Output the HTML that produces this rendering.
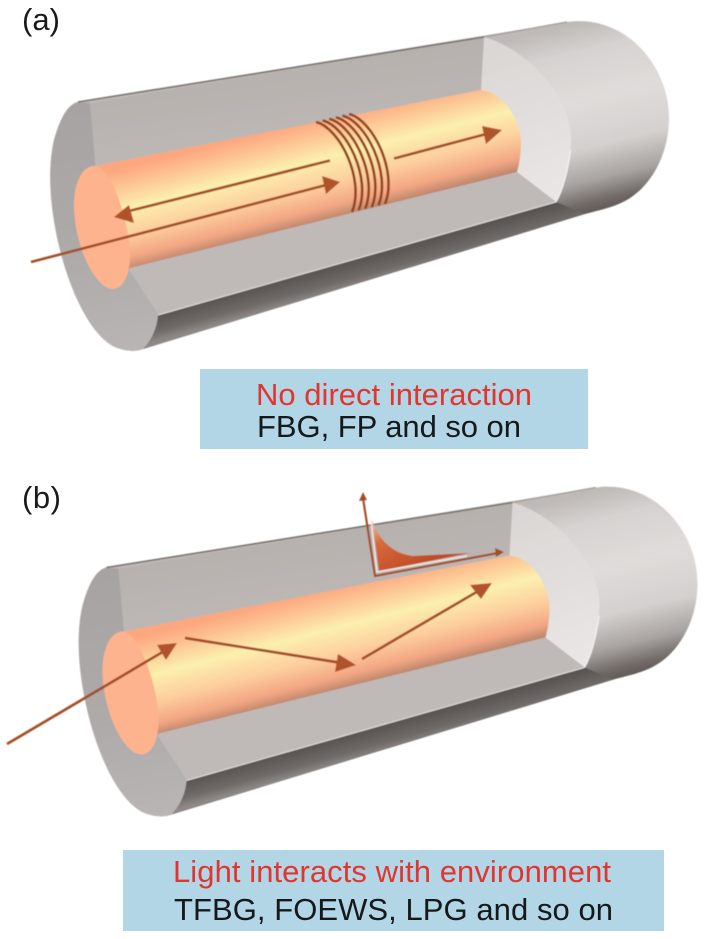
<!DOCTYPE html>
<html lang="en">
<head>
<meta charset="utf-8">
<title>Fiber sensing diagram</title>
<style>
html,body{margin:0;padding:0;background:#fff;width:708px;height:939px;overflow:hidden}
svg{display:block}
text{font-family:"Liberation Sans",Arial,sans-serif;font-size:31px}
</style>
</head>
<body>
<svg width="708" height="939" viewBox="0 0 708 939" xmlns="http://www.w3.org/2000/svg">
<defs>
  <linearGradient id="body" gradientUnits="userSpaceOnUse" x1="590" y1="20" x2="635" y2="205">
    <stop offset="0" stop-color="#bfbab8"/><stop offset=".15" stop-color="#d6d2d0"/>
    <stop offset=".4" stop-color="#e0dcda"/><stop offset=".65" stop-color="#d4d0ce"/>
    <stop offset=".82" stop-color="#a8a3a1"/><stop offset=".93" stop-color="#726b68"/><stop offset="1" stop-color="#5c5552"/>
  </linearGradient>
  <linearGradient id="face" gradientUnits="userSpaceOnUse" x1="70" y1="100" x2="120" y2="350">
    <stop offset="0" stop-color="#a6a3a2"/><stop offset=".6" stop-color="#adaaa9"/><stop offset="1" stop-color="#b8b5b4"/>
  </linearGradient>
  <linearGradient id="wall" gradientUnits="userSpaceOnUse" x1="280" y1="60" x2="290" y2="130">
    <stop offset="0" stop-color="#b6b0ad"/><stop offset="1" stop-color="#bcb7b4"/>
  </linearGradient>
  <linearGradient id="end" gradientUnits="userSpaceOnUse" x1="490" y1="40" x2="550" y2="200">
    <stop offset="0" stop-color="#dad6d4"/><stop offset="1" stop-color="#e9e6e5"/>
  </linearGradient>
  <linearGradient id="under" gradientUnits="userSpaceOnUse" x1="345" y1="258" x2="353" y2="287">
    <stop offset="0" stop-color="#534d4b"/><stop offset=".7" stop-color="#6f6a68"/><stop offset="1" stop-color="#8d8886"/>
  </linearGradient>
  <linearGradient id="core" gradientUnits="userSpaceOnUse" x1="296" y1="124" x2="322" y2="226">
    <stop offset="0" stop-color="#fda77f"/><stop offset=".1" stop-color="#fdb88b"/>
    <stop offset=".38" stop-color="#fcefae"/><stop offset=".62" stop-color="#fdd09e"/>
    <stop offset=".84" stop-color="#f2a683"/><stop offset="1" stop-color="#a87a64"/>
  </linearGradient>
  <linearGradient id="wave" gradientUnits="userSpaceOnUse" x1="372" y1="518" x2="400" y2="575">
    <stop offset="0" stop-color="#efcdb6"/><stop offset=".4" stop-color="#d9693c"/><stop offset="1" stop-color="#bf4c26"/>
  </linearGradient>
  <filter id="soft" x="-5%" y="-5%" width="110%" height="110%"><feGaussianBlur stdDeviation=".4"/></filter>
  <g id="tube">
    <path fill="url(#body)" d="M78 102L567 22C625 14 669 65 669 118C669 155 650 190 621 203C610 208 600 210 585 214L143 349C135 352 125 351 115 347C90 335 70 290 60 250C50 210 47 170 54 140C60 118 68 104 78 102Z"/>
    <path fill="url(#under)" d="M158 315L556 202L585 214L143 349C150 342 157 330 158 315Z"/>
    <path fill="url(#face)" d="M78 102L90 103L96 170L128 268L158 315C157 330 150 342 143 349C135 352 125 351 115 347C90 335 70 290 60 250C50 210 47 170 54 140C60 118 68 104 78 102Z"/>
    <path fill="url(#end)" d="M484 37C530 50 572 100 571 140C570 165 563 190 556 202L517 172L490 100L481 90Z"/>
    <path fill="url(#wall)" d="M90 103L484 37L481 90L96 168Z"/>
    <path fill="#bfbab8" d="M128 268L517 172L556 202L158 315Z"/>
    <path fill="none" stroke="#e4e1df" stroke-width="1" d="M158 315L556 202"/>
    <path fill="none" stroke="#f4f2f1" stroke-width="1.2" d="M556 202C563 190 568 170 570.5 150"/>
    <path fill="none" stroke="#77716e" stroke-width="1.6" d="M78 102L484 37"/>
    <path fill="none" stroke="#a19c9a" stroke-width="1.2" d="M484 37L567 22"/>
    <path fill="url(#core)" d="M95 166L481 90C505 93 521 122 521 142C521 155 519 165 517 172L130 268L113 289L95 230Z"/>
    <path fill="#fdb38e" d="M95 166C113 170 130 225 130 255C130 280 120 289 113 289C95 289 74 245 74 205C74 180 84 165 95 166Z"/>
  </g>
  <g id="ring"><path fill="none" stroke="#94451f" stroke-width="2.6" d="M316 122C340 128 365 180 352 212"/></g>
</defs>

<g filter="url(#soft)">
  <use href="#tube"/>
  <g>
    <use href="#ring"/>
    <use href="#ring" transform="translate(6.6,-1.6)"/>
    <use href="#ring" transform="translate(13.2,-3.2)"/>
    <use href="#ring" transform="translate(19.8,-4.8)"/>
    <use href="#ring" transform="translate(26.4,-6.4)"/>
    <use href="#ring" transform="translate(33,-8)"/>
  </g>
  <g stroke="#a44e27" stroke-width="2.7" fill="none">
    <path d="M330 160.5L125 212"/>
    <path d="M31 262L330 184"/>
    <path d="M394 158.5L490 133"/>
  </g>
  <g fill="#b0522a">
    <path d="M114 217L129 205L134 223Z"/>
    <path d="M340 182L322 176L326 194Z"/>
    <path d="M502 130L482 126L486 144Z"/>
  </g>

  <use href="#tube" transform="translate(28.5,465.5)"/>
  <g stroke="#a44e27" stroke-width="2.7" fill="none">
    <path d="M7 744L166 650"/>
    <path d="M185 638L342 663"/>
    <path d="M362 659L480 590"/>
  </g>
  <g fill="#b0522a">
    <path d="M177 643L157 645L166 660Z"/>
    <path d="M356 665L338 654L335 672Z"/>
    <path d="M492 583L470 585L481 599Z"/>
  </g>
  <path fill="url(#wave)" d="M372 519C377 535 388 553 413 556L470 553L379 571Z"/>
  <path fill="none" stroke="#efe9e4" stroke-width="1.5" d="M371 520L377 572L467 556"/>
  <path fill="none" stroke="#a44e27" stroke-width="2.2" d="M363 498L375 576L498 553"/>
  <path fill="#a44e27" d="M363 492L359 501L367 500Z"/>
  <path fill="#a44e27" d="M504 552L495 548L496 557Z"/>
</g>

<rect x="200" y="369" width="388" height="80" fill="#b2d6e6"/>
<rect x="123" y="850" width="541" height="81" fill="#b2d6e6"/>

<text x="22" y="30" fill="#1a1a1a" textLength="38">(a)</text>
<text x="22" y="508" fill="#1a1a1a" textLength="39">(b)</text>
<text x="256" y="405" fill="#e1362f" textLength="276">No direct interaction</text>
<text x="257" y="437" fill="#15191b" textLength="264">FBG, FP and so on</text>
<text x="173" y="882" fill="#e1362f" textLength="438">Light interacts with environment</text>
<text x="174" y="920" fill="#15191b" textLength="439">TFBG, FOEWS, LPG and so on</text>
</svg>
</body>
</html>
